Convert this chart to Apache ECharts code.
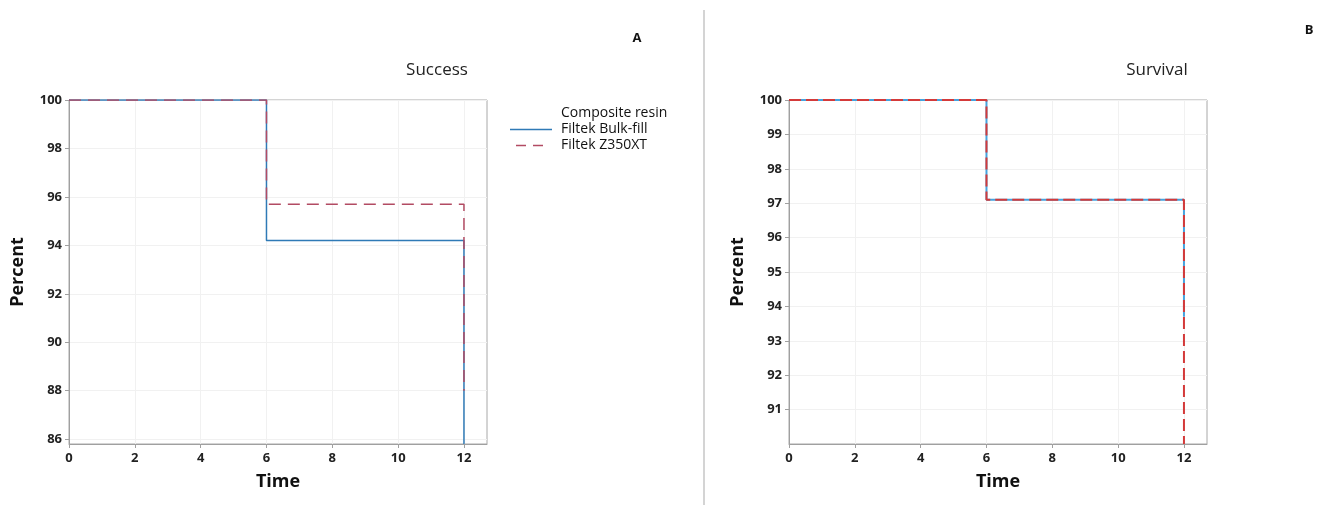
<!DOCTYPE html>
<html>
<head>
<meta charset="utf-8">
<script src="https://cdn.jsdelivr.net/npm/echarts@6/dist/echarts.min.js"></script>
<style>
  html, body { margin: 0; padding: 0; background: #fff; }
  #chart { width: 1324px; height: 505px; }
</style>
</head>
<body>
<div id="chart"></div>
<script>
// ---- data ----
const times = [0, 6, 12];
const successBulkFill = [100, 94.2, 85.8];
const successZ350XT = [100, 95.7, 88.0];
const survivalBulkFill = [100, 97.1, 93.7];
const survivalZ350XT = [100, 97.1, 90.0];

const xTicks = [0, 2, 4, 6, 8, 10, 12];
const successYTicks = [86, 88, 90, 92, 94, 96, 98, 100];
const survivalYTicks = [91, 92, 93, 94, 95, 96, 97, 98, 99, 100];

const seriesNames = ['Filtek Bulk-fill', 'Filtek Z350XT'];
const legendTitle = 'Composite resin';

function pairs(xs, ys) { return xs.map((x, i) => [x, ys[i]]); }

const FONT = '"Open Sans", "Noto Sans", sans-serif';
const chart = echarts.init(document.getElementById('chart'), null, { renderer: 'canvas' });

function xAxisCfg(gridIndex) {
  return {
    gridIndex, type: 'value', min: 0, max: 12.7,
    name: 'Time', nameLocation: 'middle', nameGap: 29,
    nameTextStyle: { fontFamily: FONT, fontSize: 18, fontWeight: 'bold', color: '#111' },
    axisLine: { show: true, lineStyle: { color: '#a0a0a0', width: 1 } },
    axisTick: { show: true, length: 4, lineStyle: { color: '#a0a0a0' }, customValues: xTicks },
    axisLabel: { fontFamily: FONT, fontSize: 13, fontWeight: 'bold', color: '#222', margin: 8, customValues: xTicks },
    splitLine: { show: true, lineStyle: { color: '#f1f1f1', width: 1 } }
  };
}
function yAxisCfg(gridIndex, min, ticks) {
  return {
    gridIndex, type: 'value', min: min, max: 100,
    name: 'Percent', nameLocation: 'middle', nameGap: 42,
    nameTextStyle: { fontFamily: FONT, fontSize: 18, fontWeight: 'bold', color: '#111' },
    axisLine: { show: true, lineStyle: { color: '#a0a0a0', width: 1 } },
    axisTick: { show: true, length: 4, lineStyle: { color: '#a0a0a0' }, customValues: ticks },
    axisLabel: { fontFamily: FONT, fontSize: 13, fontWeight: 'bold', color: '#222', margin: 7, customValues: ticks },
    splitLine: { show: true, lineStyle: { color: '#f1f1f1', width: 1 } }
  };
}

const option = {
  backgroundColor: '#fff',
  animation: false,
  grid: [
    { left: 69, top: 100, width: 418, height: 344, show: true, borderColor: '#a8a8a8', borderWidth: 1, backgroundColor: 'transparent' },
    { left: 789, top: 100, width: 418, height: 344, show: true, borderColor: '#a8a8a8', borderWidth: 1, backgroundColor: 'transparent' }
  ],
  xAxis: [xAxisCfg(0), xAxisCfg(1)],
  yAxis: [yAxisCfg(0, 85.8, successYTicks), yAxisCfg(1, 90, survivalYTicks)],
  series: [
    {
      name: seriesNames[0], type: 'line', step: 'end', xAxisIndex: 0, yAxisIndex: 0,
      data: pairs(times, successBulkFill), symbol: 'none', color: '#2f7ab6',
      lineStyle: { color: '#2f7ab6', width: 1.5, type: 'solid' }, z: 3
    },
    {
      name: seriesNames[1], type: 'line', step: 'end', xAxisIndex: 0, yAxisIndex: 0,
      data: pairs(times, successZ350XT), symbol: 'none', color: '#b24b63',
      lineStyle: { color: '#b24b63', width: 1.5, type: [12, 7] }, z: 4
    },
    {
      name: seriesNames[0], type: 'line', step: 'end', xAxisIndex: 1, yAxisIndex: 1,
      data: pairs(times, survivalBulkFill), symbol: 'none', color: '#45a3de',
      lineStyle: { color: '#45a3de', width: 2, type: 'solid' }, z: 3
    },
    {
      name: seriesNames[1], type: 'line', step: 'end', xAxisIndex: 1, yAxisIndex: 1,
      data: pairs(times, survivalZ350XT), symbol: 'none', color: '#d43a3a',
      lineStyle: { color: '#d43a3a', width: 2, type: [12, 5] }, z: 4
    }
  ],
  graphic: [
    { type: 'line', shape: { x1: 704, y1: 10, x2: 704, y2: 505 }, style: { stroke: '#d4d4d4', lineWidth: 2 } },
    { type: 'text', x: 437, y: 70, style: { text: 'Success', font: '500 17px ' + FONT, fill: '#222', textAlign: 'center', textVerticalAlign: 'middle' } },
    { type: 'text', x: 1157, y: 70, style: { text: 'Survival', font: '500 17px ' + FONT, fill: '#222', textAlign: 'center', textVerticalAlign: 'middle' } },
    { type: 'text', x: 637, y: 38, style: { text: 'A', font: 'bold 13px ' + FONT, fill: '#111', textAlign: 'center', textVerticalAlign: 'middle' } },
    { type: 'text', x: 1309, y: 30, style: { text: 'B', font: 'bold 13px ' + FONT, fill: '#111', textAlign: 'center', textVerticalAlign: 'middle' } },
    // legend
    { type: 'text', x: 561, y: 113, style: { text: legendTitle, font: '14px ' + FONT, fill: '#111', textAlign: 'left', textVerticalAlign: 'middle' } },
    { type: 'line', shape: { x1: 510, y1: 129.5, x2: 552, y2: 129.5 }, style: { stroke: '#2f7ab6', lineWidth: 1.5 } },
    { type: 'text', x: 561, y: 129, style: { text: seriesNames[0], font: '14px ' + FONT, fill: '#111', textAlign: 'left', textVerticalAlign: 'middle' } },
    { type: 'line', shape: { x1: 516, y1: 145.5, x2: 544, y2: 145.5 }, style: { stroke: '#b24b63', lineWidth: 1.5, lineDash: [10, 7] } },
    { type: 'text', x: 561, y: 145, style: { text: seriesNames[1], font: '14px ' + FONT, fill: '#111', textAlign: 'left', textVerticalAlign: 'middle' } }
  ]
};
chart.setOption(option);
</script>
</body>
</html>
